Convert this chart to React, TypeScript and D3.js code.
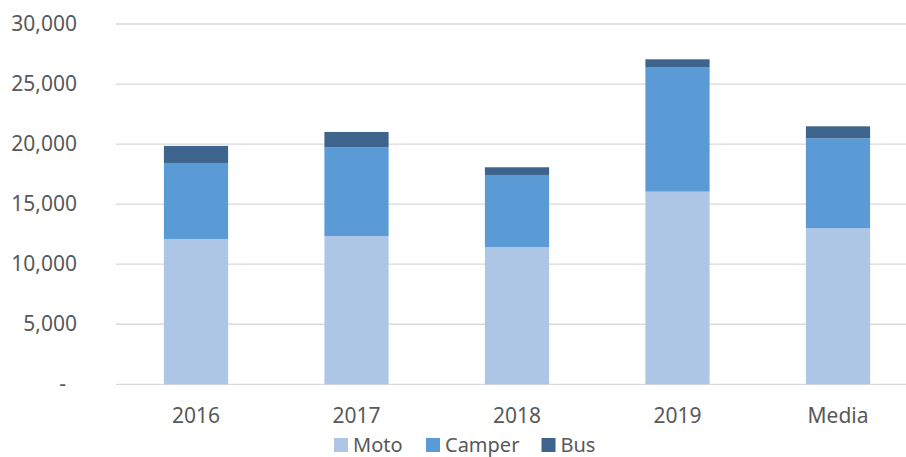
import * as d3 from "d3";
import { useRef, useEffect } from "react";

const width = 906;
const height = 457;
const margin = { left: 115.75, right: -12.25, top: 24, bottom: 72.7 };

const categories = ["2016", "2017", "2018", "2019", "Media"];
const seriesNames = ["Moto", "Camper", "Bus"];
const moto = [12100, 12350, 11430, 16040, 12990];
const camper = [6330, 7390, 6000, 10380, 7490];
const bus = [1420, 1270, 640, 640, 1000];
const yTicks = [0, 5000, 10000, 15000, 20000, 25000, 30000];
const colors = ["#AEC6E6", "#5B9BD5", "#3C648C"];

const font = "'Noto Sans', 'Open Sans', sans-serif";
const textColor = "#595959";

export default function App() {
  const svgRef = useRef<SVGSVGElement>(null);

  useEffect(() => {
    const svg = d3.select(svgRef.current);
    svg.selectAll("*").remove();

    const rows = categories.map((c, i) => ({
      cat: c,
      Moto: moto[i],
      Camper: camper[i],
      Bus: bus[i],
    }));

    const x = d3.scaleBand()
      .domain(categories)
      .range([margin.left, width - margin.right])
      .paddingInner(0.6)
      .paddingOuter(0.3);

    const y = d3.scaleLinear()
      .domain([0, 30000])
      .range([height - margin.bottom, margin.top]);

    // gridlines
    svg.append("g")
      .selectAll("line")
      .data(yTicks)
      .join("line")
      .attr("x1", margin.left)
      .attr("x2", width - margin.right)
      .attr("y1", d => y(d))
      .attr("y2", d => y(d))
      .attr("stroke", "#D9D9D9")
      .attr("stroke-width", 1.3);

    // y labels
    svg.append("g")
      .selectAll("text")
      .data(yTicks)
      .join("text")
      .attr("x", d => (d === 0 ? 66 : 77))
      .attr("y", d => y(d))
      .attr("dy", "0.33em")
      .attr("text-anchor", "end")
      .attr("font-family", font)
      .attr("font-size", 21)
      .attr("fill", textColor)
      .text(d => (d === 0 ? "-" : d3.format(",")(d)));

    const stack = d3.stack<any>().keys(seriesNames)(rows);

    svg.append("g")
      .selectAll("g")
      .data(stack)
      .join("g")
      .attr("fill", (_, i) => colors[i])
      .selectAll("rect")
      .data(d => d)
      .join("rect")
      .attr("x", d => x(d.data.cat)!)
      .attr("width", x.bandwidth())
      .attr("y", d => y(d[1]))
      .attr("height", d => y(d[0]) - y(d[1]));

    // x labels
    svg.append("g")
      .selectAll("text")
      .data(categories)
      .join("text")
      .attr("x", d => x(d)! + x.bandwidth() / 2)
      .attr("y", 423.3)
      .attr("text-anchor", "middle")
      .attr("font-family", font)
      .attr("font-size", 21)
      .attr("fill", textColor)
      .text(d => d);

    // legend
    const legendX = [334, 426, 541.5];
    const legend = svg.append("g")
      .selectAll("g")
      .data(seriesNames)
      .join("g")
      .attr("transform", (_, i) => `translate(${legendX[i]},0)`);
    legend.append("rect")
      .attr("y", 438)
      .attr("width", 14)
      .attr("height", 14)
      .attr("fill", (_, i) => colors[i]);
    legend.append("text")
      .attr("x", 19)
      .attr("y", 451.5)
      .attr("font-family", font)
      .attr("font-size", 20)
      .attr("fill", textColor)
      .text(d => d);
  }, []);

  return (
    <svg
      ref={svgRef}
      width={width}
      height={height}
      style={{ position: "absolute", left: 0, top: 0, background: "#fff" }}
    />
  );
}
